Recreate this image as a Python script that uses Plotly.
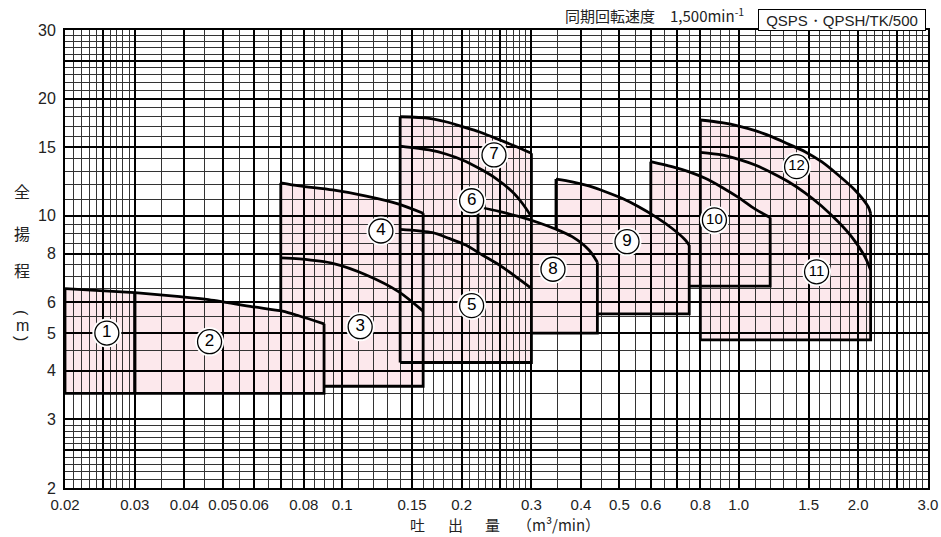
import math
import plotly.graph_objects as go

# ---------------- axis ticks & grid ----------------
x_ticks = [0.02, 0.025, 0.03, 0.04, 0.05, 0.06, 0.07, 0.08, 0.1, 0.15, 0.2, 0.25, 0.3, 0.4, 0.5, 0.6, 0.7, 0.8,
           1.0, 1.5, 2.0, 2.5, 3.0]
x_ticktext = ["0.02", "", "0.03", "0.04", "0.05", "0.06", "", "0.08", "0.1", "0.15", "0.2", "", "0.3",
              "0.4", "0.5", "0.6", "", "0.8", "1.0", "1.5", "2.0", "", "3.0"]
x_minor = [0.021, 0.022, 0.023, 0.024, 0.026, 0.027, 0.028, 0.029,
           0.035, 0.045, 0.055, 0.065, 0.075, 0.085, 0.09, 0.095,
           0.11, 0.12, 0.13, 0.14, 0.16, 0.17, 0.18, 0.19,
           0.21, 0.22, 0.23, 0.24, 0.26, 0.27, 0.28, 0.29,
           0.35, 0.45, 0.55, 0.65, 0.75, 0.85, 0.9, 0.95,
           1.1, 1.2, 1.3, 1.4, 1.6, 1.7, 1.8, 1.9,
           2.1, 2.2, 2.3, 2.4, 2.6, 2.7, 2.8, 2.9]
y_ticks = [2, 2.5, 3, 4, 5, 6, 8, 10, 15, 20, 25, 30]
y_ticktext = ["2", "", "3", "4", "5", "6", "8", "10", "15", "20", "", "30"]
y_minor = [2.1, 2.2, 2.3, 2.4, 2.6, 2.7, 2.8, 2.9,
           3.5, 4.5, 5.5, 6.5, 7, 7.5, 8.5, 9, 9.5,
           11, 12, 13, 14, 16, 17, 18, 19,
           21, 22, 23, 24, 26, 27, 28, 29]

# ---------------- pump ranges (Q m3/min, H m) ----------------
r1_x = [0.02, 0.03]
r1_h = [6.5, 6.35]
r1_bottom = 3.5

r2_x = [0.03, 0.039, 0.0455, 0.0595, 0.0707, 0.078, 0.09]
r2_h = [6.35, 6.2, 6.1, 5.84, 5.69, 5.53, 5.28]
r2_bottom = 3.5

r3_x = [0.07, 0.078, 0.0946, 0.115, 0.139, 0.16]
r3_h = [7.8, 7.75, 7.55, 7.05, 6.38, 5.69]
r4_x = [0.07, 0.078, 0.0946, 0.115, 0.139, 0.16]
r4_h = [12.15, 11.93, 11.65, 11.24, 10.72, 10.15]
r34_bottom = 3.65

r5_x = [0.14, 0.169, 0.186, 0.205, 0.2256, 0.2486, 0.2738, 0.3]
r5_h = [9.23, 9.05, 8.75, 8.41, 7.93, 7.48, 6.98, 6.51]
r6_x = [0.14, 0.1656, 0.1825, 0.2009, 0.2213, 0.2438, 0.2685, 0.2845, 0.3]
r6_h = [15.1, 14.76, 14.41, 13.91, 13.24, 12.48, 11.53, 10.77, 9.95]
r7_x = [0.14, 0.1656, 0.1825, 0.2009, 0.2213, 0.2438, 0.2685, 0.3]
r7_h = [17.96, 17.8, 17.44, 16.94, 16.44, 15.81, 15.2, 14.47]
r567_bottom = 4.2

r8_x = [0.22, 0.25, 0.28, 0.313, 0.345, 0.38, 0.419, 0.44]
r8_h = [10.55, 10.25, 9.95, 9.6, 9.25, 8.84, 8.17, 7.6]
r8_bottom = 5.0

r9_x = [0.346, 0.38, 0.4187, 0.4611, 0.5077, 0.5593, 0.6161, 0.6782, 0.733, 0.75]
r9_h = [12.43, 12.23, 11.93, 11.53, 11.09, 10.55, 9.95, 9.29, 8.67, 8.41]
r9_bottom = 5.6

r10_x = [0.6, 0.678, 0.747, 0.823, 0.906, 1.0, 1.1, 1.2]
r10_h = [13.77, 13.37, 12.98, 12.48, 11.84, 11.13, 10.4, 9.9]
r10_bottom = 6.6

r11_x = [0.8, 0.906, 1.0, 1.1, 1.21, 1.334, 1.469, 1.617, 1.781, 1.924, 2.08, 2.15]
r11_h = [14.55, 14.33, 13.96, 13.5, 12.9, 12.23, 11.46, 10.6, 9.65, 8.84, 7.85, 7.26]
r12_x = [0.8, 0.906, 1.0, 1.1, 1.21, 1.334, 1.469, 1.617, 1.781, 1.962, 2.12, 2.15]
r12_h = [17.62, 17.34, 17.0, 16.54, 15.97, 15.28, 14.61, 13.77, 12.73, 11.65, 10.55, 10.15]
r1112_bottom = 4.8

# circled labels
label_x = [0.0255, 0.0463, 0.111, 0.1252, 0.212, 0.212, 0.2414, 0.34, 0.5226, 0.868, 1.571, 1.399]
label_y = [5.0, 4.75, 5.19, 9.14, 5.88, 10.93, 14.33, 7.29, 8.58, 9.76, 7.18, 13.37]
label_txt = ["1", "2", "3", "4", "5", "6", "7", "8", "9", "10", "11", "12"]

# groups: curves drawn bottom->top; visible bottom starts at 'bfrom', left edge visible down to 'lto'
groups = [
    dict(curves=[(r1_x, r1_h)], bottom=r1_bottom, bfrom=r1_x[0], lto=r1_bottom),
    dict(curves=[(r2_x, r2_h)], bottom=r2_bottom, bfrom=r2_x[0], lto=r2_bottom),
    dict(curves=[(r3_x, r3_h), (r4_x, r4_h)], bottom=r34_bottom, bfrom=r2_x[-1], lto=r2_h[4]),
    dict(curves=[(r8_x, r8_h)], bottom=r8_bottom, bfrom=r5_x[-1], lto=r5_h[4]),
    dict(curves=[(r9_x, r9_h)], bottom=r9_bottom, bfrom=r8_x[-1], lto=r8_h[4]),
    dict(curves=[(r10_x, r10_h)], bottom=r10_bottom, bfrom=r9_x[-1], lto=r9_h[6]),
    dict(curves=[(r5_x, r5_h), (r6_x, r6_h), (r7_x, r7_h)], bottom=r567_bottom, bfrom=r5_x[0], lto=r567_bottom),
    dict(curves=[(r11_x, r11_h), (r12_x, r12_h)], bottom=r1112_bottom, bfrom=r11_x[0], lto=r1112_bottom),
]

PINK = "#fce8ec"
LINE_W = 2.8

fig = go.Figure()

for g in groups:
    ox, oy = g["curves"][-1]
    pts = [(ox[0], g["bottom"]), (ox[-1], g["bottom"])] + list(zip(ox[::-1], oy[::-1]))
    path = "M " + " L ".join(f"{x},{y}" for x, y in pts) + " Z"
    fig.add_shape(type="path", path=path, xref="x", yref="y",
                  fillcolor=PINK, line=dict(width=0), layer="below")

for g in groups:
    ox, oy = g["curves"][-1]
    x0, x1 = ox[0], ox[-1]
    fig.add_trace(go.Scatter(
        x=[g["bfrom"], x1, x1, None, x0, x0],
        y=[g["bottom"], g["bottom"], oy[-1], None, oy[0], g["lto"]],
        mode="lines", line=dict(color="black", width=LINE_W),
        hoverinfo="skip", showlegend=False))
    for cx, cy in g["curves"]:
        fig.add_trace(go.Scatter(
            x=cx, y=cy, mode="lines",
            line=dict(color="black", width=LINE_W, shape="spline", smoothing=0.8),
            hoverinfo="skip", showlegend=False))

# circled numbers
fig.add_trace(go.Scatter(x=label_x, y=label_y, mode="markers",
                         marker=dict(size=29, color="white", line=dict(width=0)),
                         hoverinfo="skip", showlegend=False))
fig.add_trace(go.Scatter(x=label_x, y=label_y, mode="markers+text", text=label_txt,
                         textposition="middle center",
                         textfont=dict(family="Liberation Sans", size=[17 if len(t) == 1 else 15 for t in label_txt],
                                       color="black"),
                         marker=dict(size=24, color="white", line=dict(width=1.3, color="black")),
                         hoverinfo="skip", showlegend=False))

# ---------------- layout ----------------
def px_x(p):
    return (p - 65) / 865.0

def px_y(p):
    return (488 - p) / 458.0

CJK = "Noto Sans CJK JP"
ann = []
ann.append(dict(text="同期回転速度　1,500min<sup>-1</sup>", x=px_x(748), y=px_y(15), xref="paper", yref="paper",
                xanchor="right", yanchor="middle", showarrow=False,
                font=dict(family=CJK, size=15, color="#222")))
ann.append(dict(text="QSPS・QPSH/TK/500", x=px_x(844), y=px_y(19.5), xref="paper", yref="paper",
                xanchor="center", yanchor="middle", showarrow=False, width=164, height=18,
                bordercolor="black", borderwidth=1, borderpad=1, bgcolor="white",
                font=dict(family="Liberation Sans", size=15, color="#222")))
for ch, py in [("全", 191), ("揚", 233), ("程", 270)]:
    ann.append(dict(text=ch, x=px_x(22), y=px_y(py), xref="paper", yref="paper",
                    xanchor="center", yanchor="middle", showarrow=False,
                    font=dict(family=CJK, size=16, color="#222")))
for ch, py, ang in [("(", 313, 90), ("m", 325, 0), (")", 338, 90)]:
    ann.append(dict(text=ch, x=px_x(22), y=px_y(py), xref="paper", yref="paper",
                    xanchor="center", yanchor="middle", showarrow=False, textangle=ang,
                    font=dict(family="Liberation Sans", size=16, color="#222")))
for ch, pxx in [("吐", 418), ("出", 456), ("量", 493), ("（m³/min）", 560)]:
    ann.append(dict(text=ch, x=px_x(pxx), y=px_y(524), xref="paper", yref="paper",
                    xanchor="center", yanchor="middle", showarrow=False,
                    font=dict(family=CJK, size=15, color="#222")))

axis_common = dict(
    type="log", showgrid=True, gridcolor="black", gridwidth=1.8,
    showline=True, mirror=True, linecolor="black", linewidth=2,
    ticks="", zeroline=False,
)

fig.update_layout(
    width=941, height=537, autosize=False,
    margin=dict(l=65, r=11, t=30, b=49),
    paper_bgcolor="white", plot_bgcolor="white",
    showlegend=False,
    xaxis=dict(range=[math.log10(0.02), math.log10(3.0)], tickmode="array",
               tickvals=x_ticks, ticktext=x_ticktext, ticklabelstandoff=2,
               tickfont=dict(family="Liberation Sans", size=15, color="#222"),
               minor=dict(tickmode="array", tickvals=x_minor, showgrid=True,
                          gridcolor="#333333", gridwidth=1, ticks=""),
               **axis_common),
    yaxis=dict(range=[math.log10(2), math.log10(30)], tickmode="array",
               tickvals=y_ticks, ticktext=y_ticktext, ticklabelstandoff=4,
               tickfont=dict(family="Liberation Sans", size=16, color="#222"),
               minor=dict(tickmode="array", tickvals=y_minor, showgrid=True,
                          gridcolor="#333333", gridwidth=1, ticks=""),
               **axis_common),
    annotations=ann,
)

fig.write_html("out.html", config={"displayModeBar": False},
               post_script="document.body.style.margin='0';document.body.style.overflow='hidden';")
